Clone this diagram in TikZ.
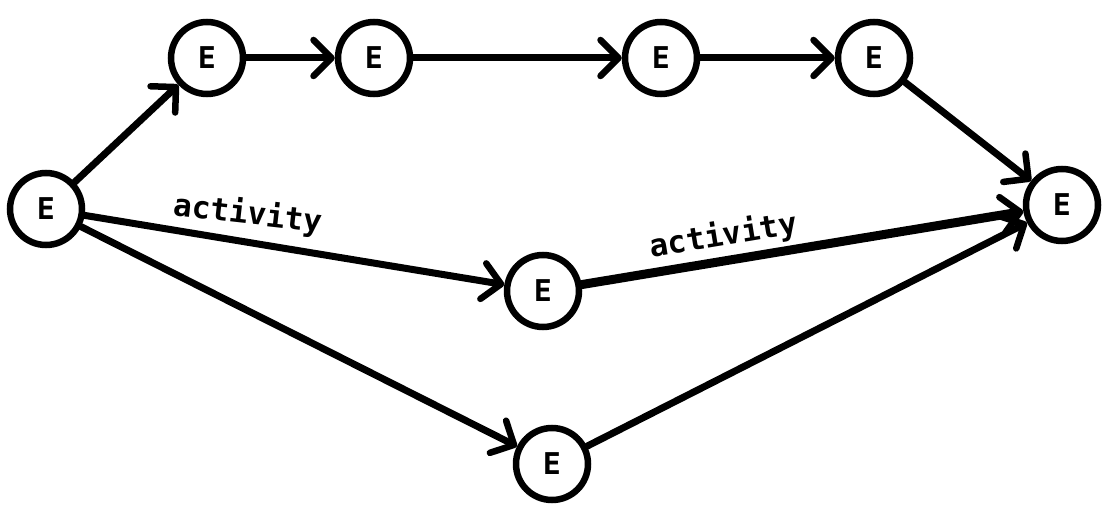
\documentclass[tikz,border=0pt]{standalone}
\usepackage{fontspec}
\newfontfamily\monob{DejaVu Sans Mono}[BoldFont={* Bold}]
\usetikzlibrary{arrows.meta}
\begin{document}
\begin{tikzpicture}[x=1pt,y=-1pt,
  ev/.style={circle,draw,line width=6.5pt,minimum size=72pt,inner sep=0pt,
    font=\monob\bfseries\fontsize{30}{30}\selectfont},
  act/.style={line width=7pt,line cap=round,
    -{Straight Barb[length=18pt,width=36pt,line width=6.5pt,round]}},
  lbl/.style={font=\monob\bfseries\fontsize{31}{31}\selectfont,inner sep=0pt}]
\useasboundingbox[fill=white] (0,0) rectangle (1103,513);
\node[ev] (s) at (46,209) {E};
\node[ev] (t1) at (207,58) {E};
\node[ev] (t2) at (374,58) {E};
\node[ev] (t3) at (661,58) {E};
\node[ev] (t4) at (874,58) {E};
\node[ev] (f) at (1062,205) {E};
\node[ev] (m) at (543,291) {E};
\node[ev] (b) at (552,464) {E};
\draw[act] (s) -- (t1);
\draw[act] (t1) -- (t2);
\draw[act] (t2) -- (t3);
\draw[act] (t3) -- (t4);
\draw[act] (t4) -- (f);
\draw[act] (s) -- (m) node[lbl,pos=0.38,above=8pt,sloped,rotate=3] (l1) {activity};
\draw[act,line width=9pt] (m) -- (f) node[lbl,pos=0.33,above=4pt,sloped] (l2) {activity};
\draw[act] (s) -- (b);
\draw[act] (b) -- (f);
\end{tikzpicture}
\end{document}
